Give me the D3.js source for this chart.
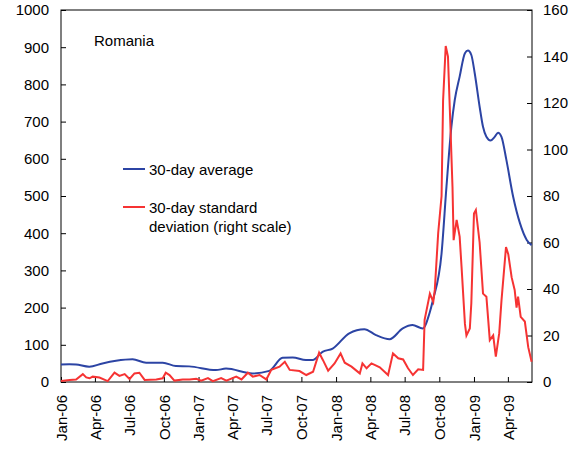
<!DOCTYPE html>
<html lang="en">
<head>
<meta charset="UTF-8">
<title>Romania</title>
<script src="https://cdn.jsdelivr.net/npm/d3@7"></script>
<style>
  body { margin: 0; background: #fff; }
  text { font-family: "Liberation Sans", Arial, sans-serif; font-size: 15px; fill: #000; }
</style>
</head>
<body>
<div id="chart"></div>
<script>
    // 30-day average (left scale)
    const avgDates = ["2006-01-01","2006-01-23","2006-02-10","2006-03-17","2006-04-21","2006-05-27","2006-07-10",
        "2006-08-15","2006-09-28","2006-11-02","2006-12-07","2007-02-16","2007-03-15","2007-05-24","2007-07-08",
        "2007-08-12","2007-09-08","2007-10-13","2007-10-31","2007-11-26","2007-12-23","2008-02-05","2008-03-16",
        "2008-04-16","2008-05-22","2008-06-26","2008-07-22","2008-08-18","2008-09-05","2008-09-14","2008-10-07",
        "2008-10-20","2008-11-02","2008-11-11","2008-11-24","2008-12-08","2008-12-16","2008-12-25","2009-01-03",
        "2009-01-16","2009-01-25","2009-02-03","2009-02-14","2009-02-25","2009-03-06","2009-03-15","2009-03-28",
        "2009-04-15","2009-05-03","2009-05-21","2009-06-03"];
    const avgValues = [47, 48, 47, 41, 50, 57, 61,
        52, 52, 43, 42, 32, 36, 23, 30,
        65, 66, 59, 59, 81, 90, 131, 142,
        126, 115, 144, 153, 144, 185, 220, 346,
        525, 686, 758, 821, 884, 891, 879, 830,
        740, 686, 659, 649, 659, 670, 659, 597,
        498, 427, 382, 368];

    // 30-day standard deviation (right scale)
    const sdDates = ["2006-01-01","2006-01-24","2006-02-10","2006-02-28","2006-03-09","2006-03-18","2006-03-26",
        "2006-04-13","2006-05-05","2006-05-23","2006-06-05","2006-06-19","2006-07-02","2006-07-15","2006-07-28",
        "2006-08-11","2006-09-11","2006-09-28","2006-10-06","2006-10-16","2006-10-29","2006-11-20","2006-12-08",
        "2006-12-26","2007-01-08","2007-01-26","2007-02-08","2007-03-02","2007-03-16","2007-04-11","2007-04-25",
        "2007-05-12","2007-05-25","2007-06-12","2007-06-30","2007-07-13","2007-08-04","2007-08-18","2007-08-31",
        "2007-09-26","2007-10-14","2007-11-01","2007-11-17","2007-11-27","2007-12-11","2007-12-28","2008-01-13",
        "2008-01-24","2008-02-11","2008-03-04","2008-03-11","2008-03-22","2008-04-04","2008-04-26","2008-05-18",
        "2008-05-31","2008-06-14","2008-06-27","2008-07-10","2008-07-23","2008-08-06","2008-08-19","2008-08-23",
        "2008-09-06","2008-09-15","2008-09-19","2008-09-28","2008-10-07","2008-10-11","2008-10-18","2008-10-24",
        "2008-10-29","2008-11-05","2008-11-08","2008-11-16","2008-11-24","2008-11-29","2008-12-08","2008-12-12",
        "2008-12-21","2008-12-25","2009-01-01","2009-01-06","2009-01-16","2009-01-25","2009-02-03","2009-02-12",
        "2009-02-21","2009-02-28","2009-03-09","2009-03-15","2009-03-27","2009-04-02","2009-04-11","2009-04-19",
        "2009-04-24","2009-04-28","2009-05-05","2009-05-16","2009-05-25","2009-06-03"];
    const sdValues = [0.4, 0.9, 1.1, 3.4, 2, 1.6, 2.3,
        1.9, 0.4, 4, 2.6, 3.4, 1.3, 3.7, 4,
        0.9, 1.1, 1.6, 4, 3, 0.6, 1.1, 1.1,
        1.4, 0.6, 1.7, 0.4, 1.7, 0.6, 2.3, 1.1,
        4, 2.3, 3, 1.1, 5.2, 6.6, 8.7, 5.2,
        4.7, 3, 4.4, 12.6, 9.5, 4.9, 8, 12.3,
        8.3, 6.6, 3.7, 8, 5.9, 8, 6.3, 3,
        12.3, 10.2, 9.7, 5.9, 3, 5.5, 5.2, 26.7,
        38, 34.5, 39.6, 64, 80, 121, 144.5, 140,
        117, 84, 61, 69.7, 62.5, 49.6, 25, 20,
        23, 34, 72.5, 74, 60, 38, 36.7, 18,
        20, 10.9, 21, 35, 58, 55, 45, 39.6,
        32, 36.7, 28, 26, 15, 8.7];

    const leftTicks = [0, 100, 200, 300, 400, 500, 600, 700, 800, 900, 1000];
    const rightTicks = [0, 20, 40, 60, 80, 100, 120, 140, 160];

    const parse = d3.timeParse("%Y-%m-%d");
    const avg = avgDates.map((d, i) => ({ date: parse(d), value: avgValues[i] }));
    const sd = sdDates.map((d, i) => ({ date: parse(d), value: sdValues[i] }));

    const margin = { top: 10, right: 47, bottom: 69, left: 61 },
        width = 579 - margin.left - margin.right,
        height = 451 - margin.top - margin.bottom;

    const svg = d3.select("#chart")
        .append("svg")
        .attr("width", 579)
        .attr("height", 451)
        .append("g")
        .attr("transform", `translate(${margin.left},${margin.top})`);

    const x = d3.scaleTime()
        .domain([parse("2006-01-01"), parse("2009-06-04")])
        .range([0, width]);
    const yLeft = d3.scaleLinear().domain([0, 1000]).range([height, 0]);
    const yRight = d3.scaleLinear().domain([0, 160]).range([height, 0]);

    // axes, ticks pointing inwards
    const xAxis = svg.append("g")
        .attr("transform", `translate(0,${height})`)
        .call(d3.axisBottom(x).ticks(d3.timeMonth.every(3)).tickFormat(d3.timeFormat("%b-%y")).tickSize(-5));
    xAxis.selectAll("text")
        .attr("transform", "rotate(-90)")
        .attr("x", -13)
        .attr("y", 0)
        .attr("dy", "0.35em")
        .style("text-anchor", "end");

    svg.append("g")
        .call(d3.axisLeft(yLeft).tickValues(leftTicks).tickFormat(d3.format("d")).tickSize(-5).tickPadding(12));

    svg.append("g")
        .attr("transform", `translate(${width},0)`)
        .call(d3.axisRight(yRight).tickValues(rightTicks).tickFormat(d3.format("d")).tickSize(-5).tickPadding(11));

    svg.selectAll(".domain").remove();
    svg.selectAll(".tick line").attr("stroke", "#000");
    svg.selectAll(".tick text").style("font-size", "15px");

    svg.append("rect")
        .attr("width", width)
        .attr("height", height)
        .attr("fill", "none")
        .attr("stroke", "#000");

    // lines
    svg.append("path")
        .datum(avg)
        .attr("fill", "none")
        .attr("stroke", "#2c44a4")
        .attr("stroke-width", 2)
        .attr("d", d3.line().x(d => x(d.date)).y(d => yLeft(d.value)).curve(d3.curveMonotoneX));

    svg.append("path")
        .datum(sd)
        .attr("fill", "none")
        .attr("stroke", "#f63333")
        .attr("stroke-width", 2)
        .attr("d", d3.line().x(d => x(d.date)).y(d => yRight(d.value)));

    // title and legend
    svg.append("text").attr("x", 94 - margin.left).attr("y", 46 - margin.top).text("Romania");

    const legend = svg.append("g").attr("transform", `translate(${123 - margin.left},0)`);
    legend.append("line").attr("x1", 0).attr("x2", 22).attr("y1", 159).attr("y2", 159)
        .attr("stroke", "#2c44a4").attr("stroke-width", 2);
    legend.append("text").attr("x", 26).attr("y", 165).text("30-day average");
    legend.append("line").attr("x1", 0).attr("x2", 22).attr("y1", 197).attr("y2", 197)
        .attr("stroke", "#f63333").attr("stroke-width", 2);
    legend.append("text").attr("x", 26).attr("y", 203).text("30-day standard");
    legend.append("text").attr("x", 26).attr("y", 221.5).text("deviation (right scale)");
</script>
</body>
</html>
